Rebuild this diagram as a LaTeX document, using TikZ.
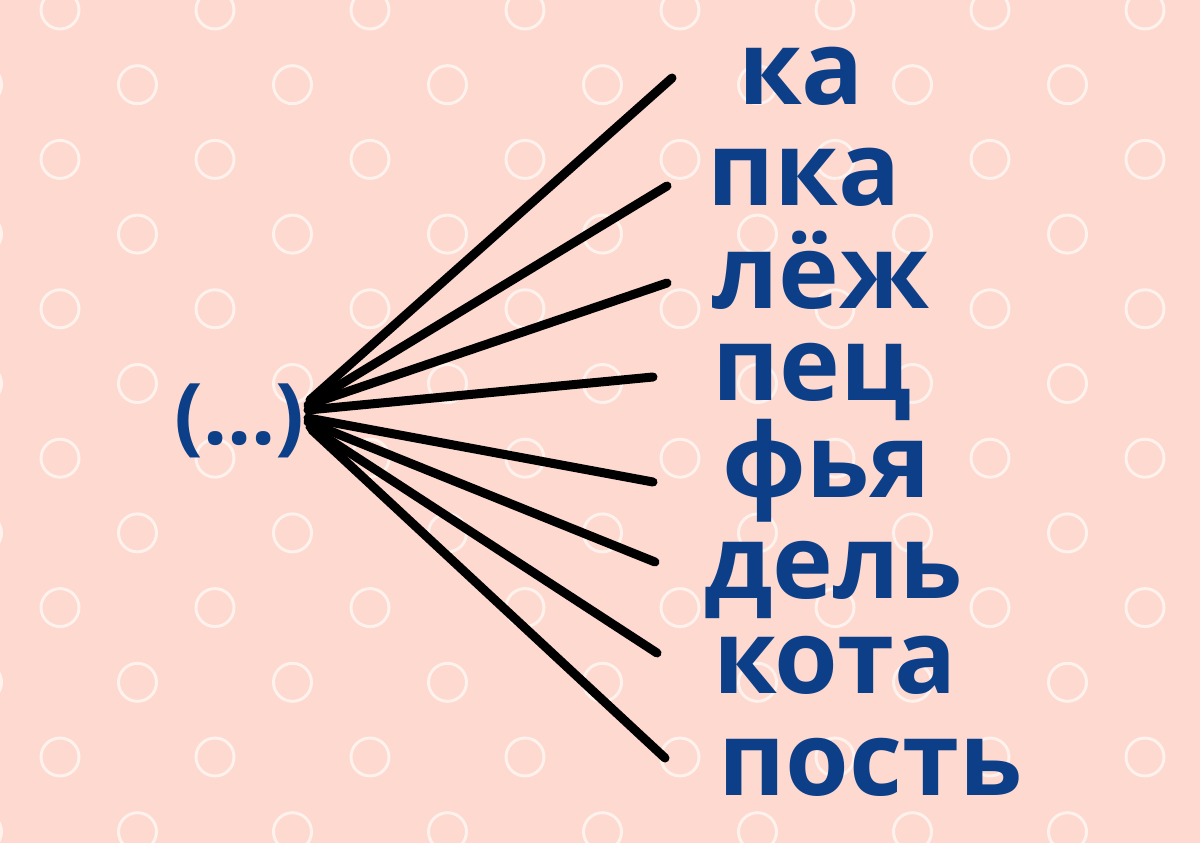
\documentclass[tikz,border=0pt]{standalone}
\usepackage{fontspec}
\setmainfont{Open Sans}
\definecolor{bgPink}{HTML}{FDD9D0}
\definecolor{ringWhite}{HTML}{FFF1EC}
\definecolor{wordBlue}{HTML}{0C3F88}

\begin{document}
\begin{tikzpicture}
[x=1pt,y=-1pt,%
  wordDecorate/.style={anchor=base west,inner sep=0pt,text=wordBlue,%
    font=\bfseries\fontsize{103}{103}\selectfont},%
  rootDecorate/.style={wordDecorate,font=\bfseries\fontsize{85}{85}\selectfont},%
  lineDecorate/.style={line width=9pt,line cap=round},%
  ringDecorate/.style={draw=ringWhite,line width=3pt}]
%% background
\useasboundingbox (0,0) rectangle (1200,843);
\clip (0,0) rectangle (1200,843);
\fill[bgPink] (0,0) rectangle (1200,843);
%% rings
\foreach \row in {0,...,11}
{
  \pgfmathsetmacro{\shift}{mod(\row,2)*77.5}
  \foreach \col in {-1,...,7}
  {
    \draw[ringDecorate] (60+\shift+155*\col,10+74.7*\row) circle (19pt);
  }
}
%% words
\node (dots) at (174,444) [rootDecorate] {(...)};
\foreach \nodename/\word/\x/\y in {
  ka/ка/738/105, pka/пка/707/205, lezh/лёж/712/308, pets/пец/712/400,
  fya/фья/722/497, del/дель/704/598, kota/кота/713/693, post/пость/718/795}
{
  \node (\nodename) at (\x,\y) [wordDecorate] {\word};
}
%% ends of the lines
\foreach \n/\sx/\sy/\ex/\ey in {
  1/310/400/672/78, 2/310/403/667/186, 3/308/405/667/283, 4/308/410/653/377,
  5/308/418/653/482, 6/308/422/655/562, 7/310/427/657/653, 8/312/430/665/758}
{
  \coordinate (s\n) at (\sx,\sy);
  \coordinate (e\n) at (\ex,\ey);
}
%% lines
\path
\foreach \n in {1,...,8}
{
  (s\n) edge[lineDecorate] (e\n)
};
\end{tikzpicture}
\end{document}
